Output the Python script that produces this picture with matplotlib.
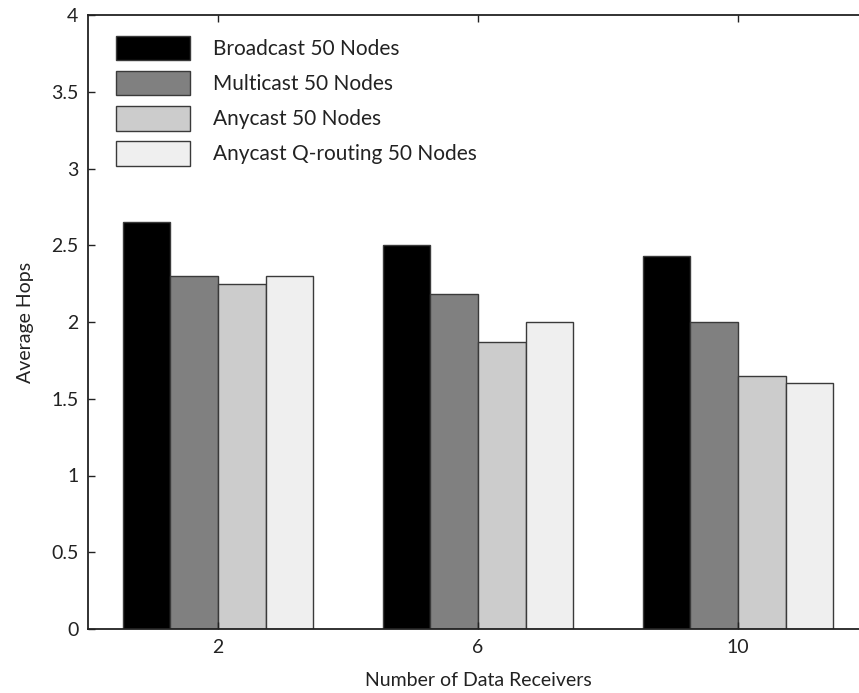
import matplotlib
matplotlib.use("Agg")
import matplotlib.pyplot as plt
import numpy as np

categories = ["2", "6", "10"]
series_names = ["Broadcast 50 Nodes", "Multicast 50 Nodes", "Anycast 50 Nodes",
                "Anycast Q-routing 50 Nodes"]
broadcast = [2.65, 2.50, 2.43]
multicast = [2.30, 2.18, 2.00]
anycast = [2.245, 1.87, 1.65]
anycast_q = [2.30, 2.00, 1.60]
colors = ["#000000", "#808080", "#cccccc", "#efefef"]

plt.rcParams['font.family'] = ['Lato', 'DejaVu Sans']

fig = plt.figure(figsize=(8.59, 6.93), dpi=100)
ax = fig.add_axes([88/859, 1 - 629/693, (868-88)/859, (629-15)/693])

x = np.arange(1, len(categories) + 1)
n = 4
bw = 0.183
series = [broadcast, multicast, anycast, anycast_q]
for i, (vals, name, c) in enumerate(zip(series, series_names, colors)):
    off = (i - (n - 1) / 2) * bw
    ax.bar(x + off, vals, width=bw, color=c, edgecolor='#3a3a3a', linewidth=1.0,
           label=name)

ax.set_xlim(0.5, 3.5)
ax.set_ylim(0, 4)
ax.set_xticks(x)
ax.set_xticklabels(categories)
ax.set_yticks(np.arange(0, 4.01, 0.5))
ax.set_yticklabels(["0", "0.5", "1", "1.5", "2", "2.5", "3", "3.5", "4"])
ax.tick_params(direction='in', top=True, right=True, length=5, width=1,
               labelsize=14, colors='#222222', pad=7)
for s in ax.spines.values():
    s.set_linewidth(1.3)
    s.set_color('#222222')

ax.set_xlabel("Number of Data Receivers", fontsize=14, color='#222222', labelpad=12)
ax.set_ylabel("Average Hops", fontsize=14, color='#222222', labelpad=12)

leg = ax.legend(loc='upper left', frameon=False, fontsize=15,
                bbox_to_anchor=(0.012, 0.997), handlelength=3.55, handleheight=1.45,
                handletextpad=1.1, labelspacing=0.5)
for t in leg.get_texts():
    t.set_color('#222222')

fig.savefig("out.png", dpi=100)
